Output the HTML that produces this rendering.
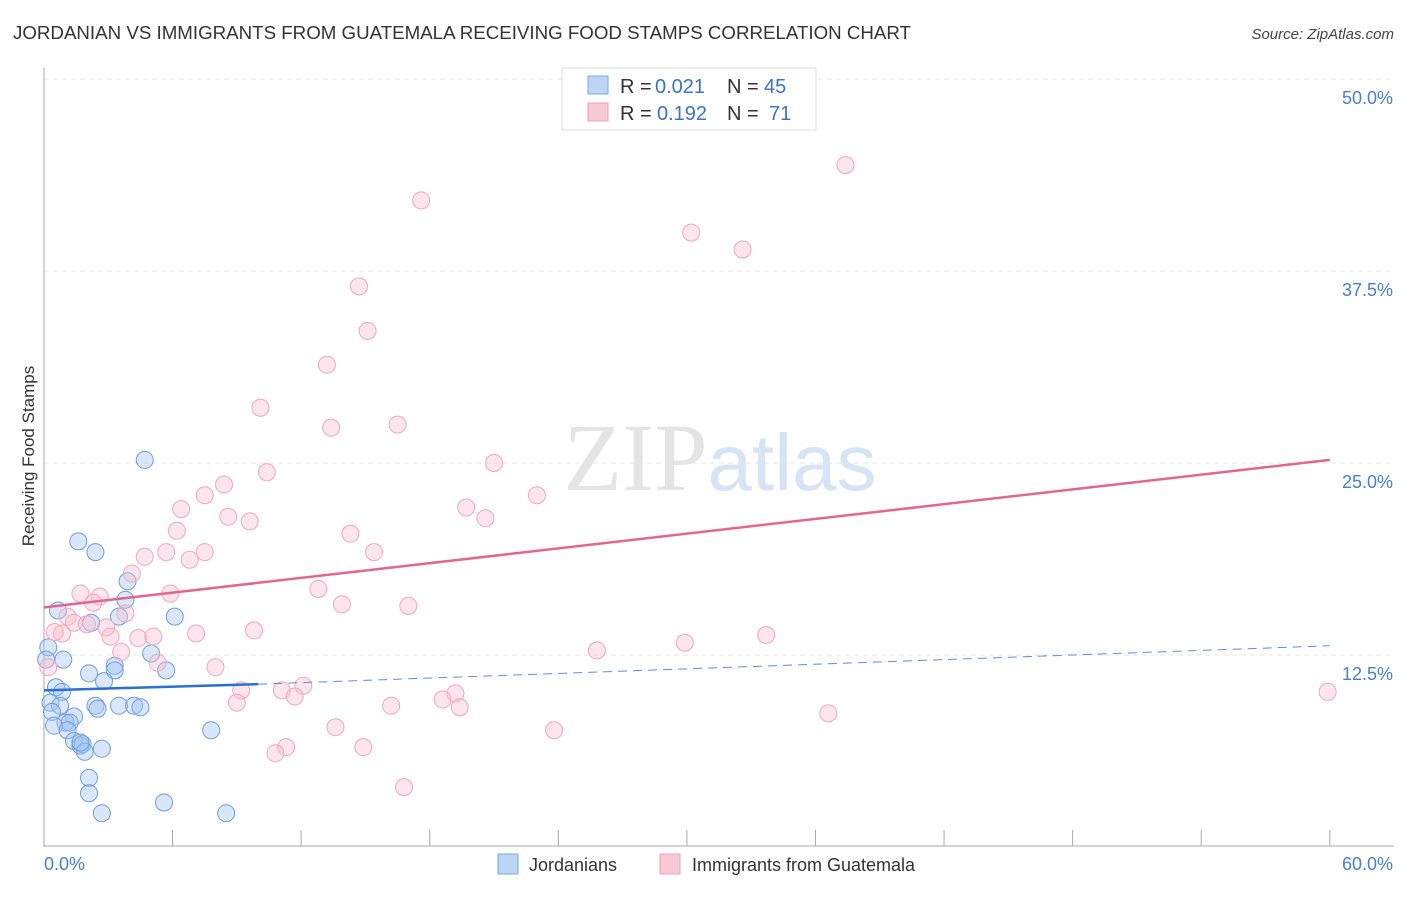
<!DOCTYPE html>
<html><head><meta charset="utf-8"><style>
body{margin:0;background:#fff;font-family:"Liberation Sans",sans-serif;}
</style></head><body>
<svg width="1406" height="892" xmlns="http://www.w3.org/2000/svg" style="font-family:'Liberation Sans',sans-serif">
<text x="13" y="39" font-size="18" fill="#333" textLength="898" lengthAdjust="spacingAndGlyphs">JORDANIAN VS IMMIGRANTS FROM GUATEMALA RECEIVING FOOD STAMPS CORRELATION CHART</text>
<text x="1394" y="39" font-size="15" fill="#444" font-style="italic" text-anchor="end">Source: ZipAtlas.com</text>
<text x="720" y="490" font-size="96" text-anchor="middle" fill="#e4e4e4" font-family="Liberation Serif">ZIP<tspan fill="#d6e4f5" font-family="Liberation Sans" font-size="80">atlas</tspan></text>
<g id="grid"></g>
<g id="axes"></g>
<text transform="translate(34,456) rotate(-90)" font-size="17" fill="#333" text-anchor="middle">Receiving Food Stamps</text>
<g id="pts"></g>
<g id="lines"></g>
<g>
<rect x="562" y="68" width="254" height="62" fill="#fff" stroke="#ddd"/>
<rect x="588" y="76" width="20" height="18" fill="#bcd5f5" stroke="#7aa7e0"/>
<rect x="588" y="103" width="20" height="18" fill="#f9c9d7" stroke="#eea0b6"/>
<text x="620" y="93" font-size="20" fill="#333">R =</text>
<text x="655" y="93" font-size="20" fill="#3b73c8">0.021</text>
<text x="727" y="93" font-size="20" fill="#333">N =</text>
<text x="764" y="93" font-size="20" fill="#3b73c8">45</text>
<text x="620" y="120" font-size="20" fill="#333">R =</text>
<text x="657" y="120" font-size="20" fill="#3b73c8">0.192</text>
<text x="727" y="120" font-size="20" fill="#333">N =</text>
<text x="769" y="120" font-size="20" fill="#3b73c8">71</text>
</g>
<g>
<rect x="498" y="854" width="20" height="20" fill="#bcd5f5" stroke="#7aa7e0"/>
<text x="529" y="871" font-size="18" fill="#333">Jordanians</text>
<rect x="660" y="854" width="20" height="20" fill="#f9c9d7" stroke="#eea0b6"/>
<text x="692" y="871" font-size="18" fill="#333">Immigrants from Guatemala</text>
</g>
</svg>
<script>
const yTicks=[12.5,25,37.5,50];
const yTickLabels=["12.5%","25.0%","37.5%","50.0%"];
const xTickCount=10;
const blueX=[4.7,1.6,2.4,3.9,3.8,0.65,3.5,2.2,6.1,5.0,0.2,0.9,3.3,3.3,5.7,2.1,2.8,0.56,0.84,0.3,0.75,2.4,2.5,3.5,4.2,4.5,0.37,1.4,1.0,0.47,1.2,1.1,1.4,1.7,1.8,1.9,2.7,7.8,2.1,2.1,5.6,2.7,8.5,0.1,1.7];
const blueY=[25.2,19.9,19.2,17.3,16.1,15.4,15.0,14.6,15.0,12.6,13.0,12.2,11.8,11.5,11.5,11.3,10.8,10.4,10.1,9.4,9.2,9.2,9.0,9.2,9.2,9.1,8.8,8.5,8.1,7.9,8.1,7.6,6.9,6.6,6.7,6.2,6.4,7.6,4.5,3.5,2.9,2.2,2.2,12.2,6.8];
const pinkX=[37.4,17.6,30.2,32.6,14.7,15.1,13.2,10.1,13.4,16.5,10.4,21.0,8.4,7.5,23.0,6.4,19.7,8.6,9.6,20.6,6.2,14.3,5.7,7.5,15.4,4.7,6.8,4.1,12.8,1.7,5.9,2.6,2.3,13.9,17.0,1.1,3.8,1.4,2.0,2.9,0.84,0.5,7.1,9.8,3.1,4.4,5.1,33.7,29.9,25.8,3.6,5.3,0.2,8.0,12.1,9.2,11.1,11.7,19.2,59.9,18.6,9.0,16.2,19.4,36.6,13.6,23.8,11.3,14.9,10.8,16.8];
const pinkY=[44.4,42.1,40.0,38.9,36.5,33.6,31.4,28.6,27.3,27.5,24.4,25.0,23.6,22.9,22.9,22.0,22.1,21.5,21.2,21.4,20.6,20.4,19.2,19.2,19.2,18.9,18.7,17.8,16.8,16.5,16.5,16.3,15.9,15.8,15.7,15.0,15.2,14.6,14.5,14.3,13.9,14.0,13.9,14.1,13.7,13.6,13.7,13.8,13.3,12.8,12.7,12.0,11.7,11.7,10.5,10.2,10.2,9.8,10.0,10.1,9.6,9.4,9.2,9.1,8.7,7.8,7.6,6.5,6.5,6.1,3.9];
const blueTrend=[10.2,10.6,13.1];
const pinkTrend=[15.6,25.2];
const NS="http://www.w3.org/2000/svg";
const sx=v=>44+v*21.43, sy=v=>847-v*15.36;
function mk(t,a,p){const e=document.createElementNS(NS,t);for(const k in a)e.setAttribute(k,a[k]);document.getElementById(p).appendChild(e);return e;}
yTicks.forEach((t,i)=>{
 const l=mk('line',{x1:44,x2:1394,y1:sy(t),y2:sy(t),stroke:'#e6e6e6','stroke-dasharray':'5,4'},'grid');
 
 
 const tx=mk('text',{x:1393,y:sy(t)+25,'font-size':18,fill:'#4a7fd0','text-anchor':'end'},'axes');
 tx.textContent=yTickLabels[i];
 
 
});
let a=mk('line',{x1:44,x2:44,y1:68,y2:847,stroke:'#aaa'},'axes');

a=mk('line',{x1:44,x2:1394,y1:846,y2:846,stroke:'#aaa'},'axes');

for(let i=1;i<=xTickCount;i++){const t=mk('line',{x1:sx(i*6),x2:sx(i*6),y1:830,y2:846,stroke:'#aaa'},'axes');
 
 }
let t0=mk('text',{x:44,y:870,'font-size':18,fill:'#4a7fd0'},'axes');t0.textContent='0.0%';

t0=mk('text',{x:1393,y:870,'font-size':18,fill:'#4a7fd0','text-anchor':'end'},'axes');t0.textContent='60.0%';

blueX.forEach((x,i)=>{const c=mk('circle',{cx:sx(x),cy:sy(blueY[i]),r:8.5,fill:'rgba(160,196,240,0.4)',stroke:'#6f9ede','stroke-width':1},'pts');
 
 });
pinkX.forEach((x,i)=>{const c=mk('circle',{cx:sx(x),cy:sy(pinkY[i]),r:8.5,fill:'rgba(248,190,208,0.4)',stroke:'#f0a8be','stroke-width':1},'pts');
 
 });
let L=mk('line',{x1:sx(0),y1:sy(pinkTrend[0]),x2:sx(60),y2:sy(pinkTrend[1]),stroke:'#e2668f','stroke-width':2.5},'lines');

L=mk('line',{x1:sx(0),y1:sy(blueTrend[0]),x2:sx(10),y2:sy(blueTrend[1]),stroke:'#2a6fd1','stroke-width':2.5},'lines');

L=mk('line',{x1:sx(10),y1:sy(blueTrend[1]),x2:sx(60),y2:sy(blueTrend[2]),stroke:'#5b90d8','stroke-width':1,'stroke-dasharray':'9,6'},'lines');

</script>
</body></html>
